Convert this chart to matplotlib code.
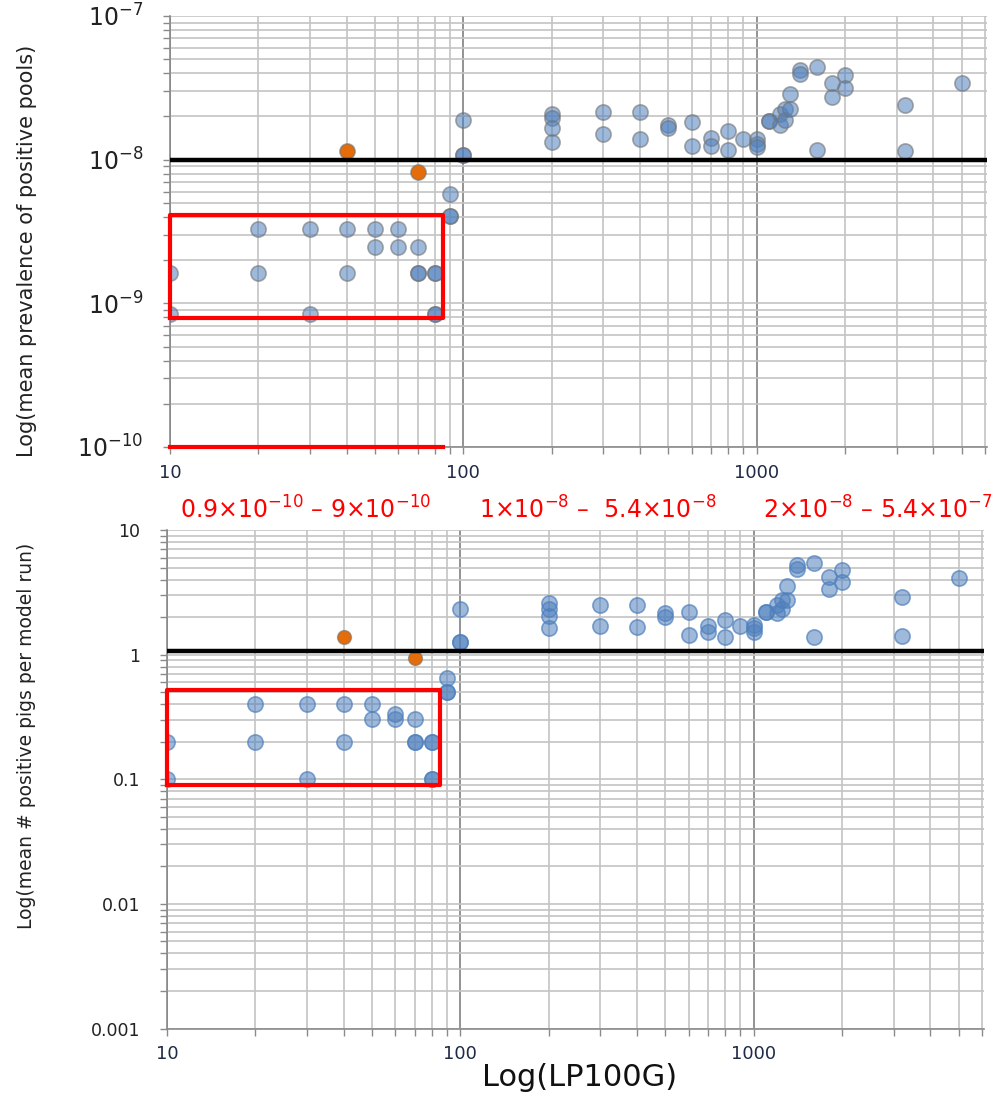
import matplotlib
matplotlib.use("Agg")
import matplotlib.pyplot as plt
from matplotlib.ticker import LogLocator, NullFormatter
import numpy as np

plt.rcParams['font.family'] = ['DejaVu Sans']
plt.rcParams['mathtext.default'] = 'regular'

# top panel: mean prevalence of positive pools vs LP100G
top_x = [10, 10, 20, 20, 30, 30, 40, 40, 50, 50, 60, 60, 70, 70, 70,
         80, 80, 80, 80, 90, 90, 90, 100, 100, 100,
         200, 200, 200, 200, 300, 300, 400, 400, 500, 500, 600, 600,
         700, 700, 800, 800, 900, 1000, 1000, 1000, 1100, 1100,
         1200, 1200, 1250, 1250, 1300, 1300, 1400, 1400, 1600, 1600,
         1800, 1800, 2000, 2000, 3200, 3200, 5000]
top_y = [1.63e-9, 8.4e-10, 3.28e-9, 1.63e-9, 3.28e-9, 8.4e-10, 3.28e-9, 1.63e-9,
         3.28e-9, 2.47e-9, 3.28e-9, 2.47e-9, 2.47e-9, 1.63e-9, 1.63e-9,
         1.63e-9, 1.63e-9, 8.4e-10, 8.4e-10, 5.74e-9, 4.06e-9, 4.06e-9,
         1.9e-8, 1.07e-8, 1.07e-8,
         2.09e-8, 1.96e-8, 1.65e-8, 1.32e-8, 2.14e-8, 1.5e-8, 2.14e-8, 1.4e-8,
         1.73e-8, 1.66e-8, 1.82e-8, 1.24e-8, 1.41e-8, 1.24e-8, 1.58e-8, 1.16e-8,
         1.4e-8, 1.4e-8, 1.29e-8, 1.22e-8, 1.85e-8, 1.85e-8,
         2.09e-8, 1.73e-8, 2.26e-8, 1.9e-8, 2.87e-8, 2.26e-8, 4.2e-8, 3.95e-8,
         4.45e-8, 1.16e-8, 3.4e-8, 2.75e-8, 3.9e-8, 3.16e-8, 2.42e-8, 1.15e-8,
         3.4e-8]
top_orange_x = [40, 70]
top_orange_y = [1.15e-8, 8.2e-9]

# bottom panel: mean # positive pigs per model run
bot_x = top_x
bot_y = [0.2, 0.1, 0.4, 0.2, 0.4, 0.1, 0.4, 0.2, 0.4, 0.305, 0.334, 0.305,
         0.305, 0.2, 0.2, 0.2, 0.2, 0.1, 0.1, 0.645, 0.505, 0.505,
         2.33, 1.27, 1.27,
         2.58, 2.31, 2.04, 1.63, 2.5, 1.71, 2.5, 1.66, 2.15, 2.02, 2.2, 1.44,
         1.71, 1.53, 1.9, 1.39, 1.7, 1.73, 1.63, 1.53, 2.21, 2.21,
         2.5, 2.15, 2.75, 2.31, 3.56, 2.75, 5.25, 4.85, 5.47, 1.39,
         4.23, 3.35, 4.78, 3.81, 2.92, 1.41, 4.15]
bot_orange_x = [40, 70]
bot_orange_y = [1.39, 0.946]

top_threshold = 1e-8
bot_threshold = 1.06
top_box = [10, 85, 7.9e-10, 4.1e-9]   # x0, x1, y0, y1
bot_box = [10, 85, 0.0895, 0.52]
top_yticks = [1e-10, 1e-9, 1e-8, 1e-7]
top_ylabels = ['10$^{-10}$', '10$^{-9}$', '10$^{-8}$', '10$^{-7}$']
bot_yticks = [0.001, 0.01, 0.1, 1, 10]
bot_ylabels = ['0.001', '0.01', '0.1', '1', '10']
xticks = [10, 100, 1000]
range_labels = ['0.9×10$^{-10}$ – 9×10$^{-10}$',
                '1×10$^{-8}$ –  5.4×10$^{-8}$',
                '2×10$^{-8}$ – 5.4×10$^{-7}$']

fig = plt.figure(figsize=(9.92, 10.93), dpi=100)
ax1 = fig.add_axes([170/992, 1-447/1093, (987-170)/992, (447-16)/1093])
ax2 = fig.add_axes([167/992, 1-1028.5/1093, (984-167)/992, (1028.5-530)/1093])

blue_face = (0.31, 0.50, 0.74, 0.55)
orange = '#e46c0a'


def style_axis(ax, ylim, yticks, ylabels, ysize):
    ax.set_xscale('log')
    ax.set_yscale('log')
    ax.set_xlim(10, 6100)
    ax.set_ylim(*ylim)
    ax.xaxis.set_minor_locator(LogLocator(base=10, subs=np.arange(2, 10)))
    ax.yaxis.set_minor_locator(LogLocator(base=10, subs=np.arange(2, 10)))
    ax.xaxis.set_minor_formatter(NullFormatter())
    ax.yaxis.set_minor_formatter(NullFormatter())
    ax.set_xticks(xticks)
    ax.set_xticklabels([str(t) for t in xticks])
    ax.set_yticks(yticks)
    ax.set_yticklabels(ylabels)
    ax.grid(True, which='minor', color='#c4c4c4', lw=1.2)
    ax.grid(True, which='major', axis='y', color='#c4c4c4', lw=1.2)
    ax.grid(True, which='major', axis='x', color='#8a8a8a', lw=1.3)
    ax.set_axisbelow(True)
    for s in ['top', 'right']:
        ax.spines[s].set_visible(False)
    for s in ['left', 'bottom']:
        ax.spines[s].set_color('#8a8a8a')
        ax.spines[s].set_linewidth(1.2)
    ax.tick_params(which='both', direction='out', length=5, color='#8a8a8a', width=1)
    ax.tick_params(axis='y', which='major', labelsize=ysize, pad=14, colors='#8a8a8a',
                   labelcolor='#222222')
    ax.tick_params(axis='x', which='major', labelsize=13, pad=7, labelcolor='#1f2a44')


style_axis(ax1, (1e-10, 1e-7), top_yticks, top_ylabels, 17)
style_axis(ax2, (0.001, 10), bot_yticks, bot_ylabels, 12.5)

# points
ax1.scatter(top_x, top_y, s=120, facecolor=blue_face, edgecolor=(0.45, 0.45, 0.45, 0.6),
            lw=1.2, zorder=3)
ax1.scatter(top_orange_x, top_orange_y, s=120, facecolor=orange,
            edgecolor=(0.45, 0.45, 0.45, 0.6), lw=1.2, zorder=3)
ax2.scatter(bot_x, bot_y, s=120, facecolor=blue_face, edgecolor=(0.31, 0.50, 0.74, 0.7),
            lw=1.2, zorder=3)
ax2.scatter(bot_orange_x, bot_orange_y, s=100, facecolor=orange,
            edgecolor=(0.45, 0.45, 0.45, 0.6), lw=1.0, zorder=3)

# threshold lines
ax1.axhline(top_threshold, color='black', lw=3.2, zorder=4)
ax2.axhline(bot_threshold, color='black', lw=3.2, zorder=4)

# red boxes
for ax, b in [(ax1, top_box), (ax2, bot_box)]:
    ax.plot([b[0], b[1], b[1], b[0], b[0]], [b[2], b[2], b[3], b[3], b[2]],
            color='red', lw=3, zorder=5, clip_on=False)
ax1.plot([top_box[0], top_box[1]], [1e-10, 1e-10], color='red', lw=3, zorder=5, clip_on=False)

# range annotations between panels
for xc, txt in zip([306/992, 598/992, 878/992], range_labels):
    fig.text(xc, 1-510/1093, txt, color='red', fontsize=17, ha='center', va='center')

fig.text(27/992, 1-251/1093, 'Log(mean prevalence of positive pools)', rotation=90,
         fontsize=15, ha='center', va='center', color='#222222')
fig.text(27/992, 1-736/1093, 'Log(mean # positive pigs per model run)', rotation=90,
         fontsize=13.5, ha='center', va='center', color='#222222')
fig.text(580/992, 1-1077/1093, 'Log(LP100G)', fontsize=22, ha='center', va='center',
         color='#111111')

plt.savefig('out.png', dpi=100)
